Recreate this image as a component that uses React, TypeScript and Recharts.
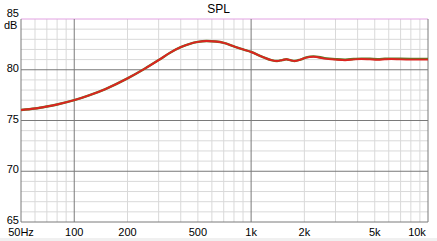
import { LineChart, Line, XAxis, YAxis, ReferenceLine } from "recharts";

const freqs = [
  50, 60, 70, 80, 100, 120, 150, 200, 250, 300, 350, 400, 450, 500, 560, 630, 700, 800, 900, 1000,
  1150, 1300, 1400, 1500, 1580, 1680, 1760, 1900, 2050, 2250, 2600, 3000, 3400, 3800, 4200, 4700,
  5200, 5700, 6200, 7000, 8000, 9000, 10000,
];
const splRed = [
  76.03, 76.18, 76.38, 76.58, 77.0, 77.45, 78.1, 79.15, 80.1, 80.95, 81.7, 82.22, 82.55, 82.74, 82.83,
  82.78, 82.65, 82.3, 82.0, 81.75, 81.3, 80.95, 80.86, 80.95, 81.03, 80.92, 80.86, 81.0, 81.2, 81.28,
  81.1, 81.0, 80.94, 81.02, 81.06, 81.02, 80.98, 81.03, 81.06, 81.02, 81.0, 81.0, 81.0,
];
const splGreen = [
  76.03, 76.18, 76.38, 76.58, 77.0, 77.45, 78.1, 79.15, 80.1, 80.95, 81.7, 82.22, 82.55, 82.74, 82.83,
  82.78, 82.65, 82.3, 82.0, 81.75, 81.3, 80.95, 80.86, 80.95, 81.03, 80.92, 80.86, 81.0, 81.22, 81.32,
  81.15, 81.05, 81.0, 81.06, 81.1, 81.08, 81.05, 81.08, 81.1, 81.08, 81.07, 81.07, 81.07,
];

const xTicks = [50, 100, 200, 500, 1000, 2000, 5000, 10000];
const xTickLabels = ["50Hz", "100", "200", "500", "1k", "2k", "5k", "10k"];
const yTicks = [65, 70, 75, 80, 85];

const xMinor = [60, 70, 80, 90, 200, 300, 400, 500, 600, 700, 800, 900, 2000, 3000, 4000, 5000, 6000, 7000, 8000, 9000];
const xMajor = [50, 100, 1000, 10000];
const yMinor = [66, 67, 68, 69, 71, 72, 73, 74, 76, 77, 78, 79, 81, 82, 83, 84];
const yMajor = [65, 70, 75, 80];

const data = freqs.map((f, i) => ({ f, red: splRed[i], green: splGreen[i] }));

const FONT = "'Liberation Sans', Arial, sans-serif";

const XTick = (props: any) => {
  const { x, y, payload } = props;
  const i = xTicks.indexOf(payload.value);
  return (
    <text x={x} y={y + 10} textAnchor="middle" dominantBaseline="central" fontSize={11} fontFamily={FONT} fill="#000">
      {xTickLabels[i]}
    </text>
  );
};

const YTick = (props: any) => {
  const { x, y, payload } = props;
  const dy = payload.value === 85 ? -6 : -2;
  return (
    <text x={x - 2} y={y + dy} textAnchor="end" dominantBaseline="central" fontSize={11} fontFamily={FONT} fill="#000">
      {payload.value}
    </text>
  );
};

export default function App() {
  return (
    <div style={{ position: "absolute", left: 0, top: 0, width: 437, height: 241, background: "#fff", fontFamily: FONT }}>
      <LineChart width={437} height={241} data={data} margin={{ top: 19, right: 9, left: 0, bottom: 0 }}>
        <XAxis
          dataKey="f"
          type="number"
          scale="log"
          domain={[50, 10000]}
          ticks={xTicks}
          tick={<XTick />}
          axisLine={false}
          tickLine={false}
          tickSize={0}
          tickMargin={0}
          height={19}
          allowDataOverflow
        />
        <YAxis
          type="number"
          domain={[65, 85]}
          ticks={yTicks}
          tick={<YTick />}
          axisLine={false}
          tickLine={false}
          tickSize={0}
          tickMargin={0}
          width={21}
          allowDataOverflow
        />
        {yMinor.map((v) => (
          <ReferenceLine key={"ym" + v} y={v} stroke="#d9d9d9" strokeWidth={1} />
        ))}
        {xMinor.map((v) => (
          <ReferenceLine key={"xm" + v} x={v} stroke="#d9d9d9" strokeWidth={1} />
        ))}
        {yMajor.map((v) => (
          <ReferenceLine key={"yM" + v} y={v} stroke="#7a7a7a" strokeWidth={1} />
        ))}
        <ReferenceLine y={85} stroke="#e2a2e2" strokeWidth={1} />
        {xMajor.map((v) => (
          <ReferenceLine key={"xM" + v} x={v} stroke="#7a7a7a" strokeWidth={1} />
        ))}
        <Line dataKey="green" type="monotone" stroke="#5f7f2a" strokeWidth={2.4} dot={false} isAnimationActive={false} />
        <Line dataKey="red" type="monotone" stroke="#dc2420" strokeWidth={1.9} dot={false} isAnimationActive={false} />
      </LineChart>
      <div style={{ position: "absolute", left: 0, top: 2, width: 437, textAlign: "center", fontSize: 12, lineHeight: "14px" }}>
        SPL
      </div>
      <div style={{ position: "absolute", left: 4, top: 19, fontSize: 11, lineHeight: "12px" }}>dB</div>
      <div style={{ position: "absolute", left: 0, top: 238, width: 437, height: 3, background: "#f0f0f0" }} />
    </div>
  );
}
